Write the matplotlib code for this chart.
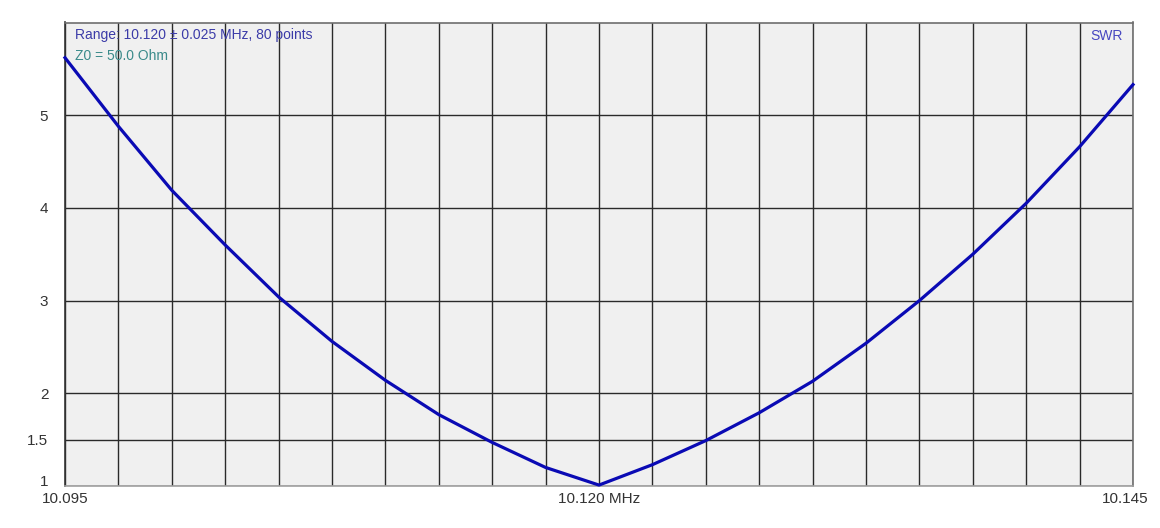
import matplotlib.pyplot as plt
import matplotlib.transforms as mtransforms

plt.rcParams['font.family'] = ['Liberation Sans', 'DejaVu Sans']

# frequency in MHz, read at each vertical grid line
freq = [10.095, 10.0975, 10.100, 10.1025, 10.105, 10.1075, 10.110, 10.1125,
        10.115, 10.1175, 10.120, 10.1225, 10.125, 10.1275, 10.130, 10.1325,
        10.135, 10.1375, 10.140, 10.1425, 10.145]
swr = [5.62, 4.88, 4.19, 3.60, 3.04, 2.56, 2.14, 1.77,
       1.47, 1.20, 1.01, 1.23, 1.49, 1.79, 2.13, 2.54,
       3.00, 3.50, 4.05, 4.66, 5.33]

xtick_pos = [10.095, 10.120, 10.145]
xtick_labels = ['10.095', '10.120 MHz', '10.145']
ytick_pos = [1, 1.5, 2, 3, 4, 5]
ytick_labels = ['1', '1.5', '2', '3', '4', '5']

fig = plt.figure(figsize=(11.6, 5.28), dpi=100)
ax = fig.add_axes([65 / 1160, 1 - 486 / 528, (1133 - 65) / 1160, (486 - 22.5) / 528])
ax.set_facecolor('#f0f0f0')

ax.set_xlim(10.095, 10.145)
ax.set_ylim(1, 6)

ax.set_xticks(freq, minor=True)
ax.set_xticks(xtick_pos, xtick_labels)
ax.set_yticks(ytick_pos, ytick_labels)
ax.grid(True, which='both', axis='x', color='#2a2a2a', linewidth=1.0)
ax.grid(True, which='major', axis='y', color='#2a2a2a', linewidth=1.0)
ax.set_axisbelow(True)
ax.tick_params(which='both', length=0, labelsize=11, colors='#333333')
ax.tick_params(axis='y', pad=12)
ax.tick_params(axis='x', pad=4)

# last x label sits a bit left of the edge, lowest y label a bit up
lab = ax.get_xticklabels()[-1]
lab.set_transform(lab.get_transform() + mtransforms.ScaledTranslation(-7.5 / 100, 0, fig.dpi_scale_trans))
ylab = ax.get_yticklabels()[0]
ylab.set_transform(ylab.get_transform() + mtransforms.ScaledTranslation(0, 5 / 100, fig.dpi_scale_trans))

for s in ['top', 'right']:
    ax.spines[s].set_color('#6e6e6e')
ax.spines['bottom'].set_color('#a0a0a0')
ax.spines['left'].set_color('#333333')
for s in ax.spines.values():
    s.set_linewidth(1.2)

ax.plot(freq, swr, color='#0a0ab4', linewidth=2.3, clip_on=False, zorder=3)

ax.text(10 / 1068, 1 - 13 / 463.5, 'Range: 10.120 \u00b1 0.025 MHz, 80 points', transform=ax.transAxes,
        fontsize=10, color='#3b3ba8', va='center', ha='left')
ax.text(10 / 1068, 1 - 33 / 463.5, 'Z0 = 50.0 Ohm', transform=ax.transAxes,
        fontsize=10, color='#3a8a8a', va='center', ha='left')
ax.text(1 - 10 / 1068, 1 - 13 / 463.5, 'SWR', transform=ax.transAxes,
        fontsize=10, color='#4646c0', va='center', ha='right')

fig.savefig('out.png', dpi=100)
